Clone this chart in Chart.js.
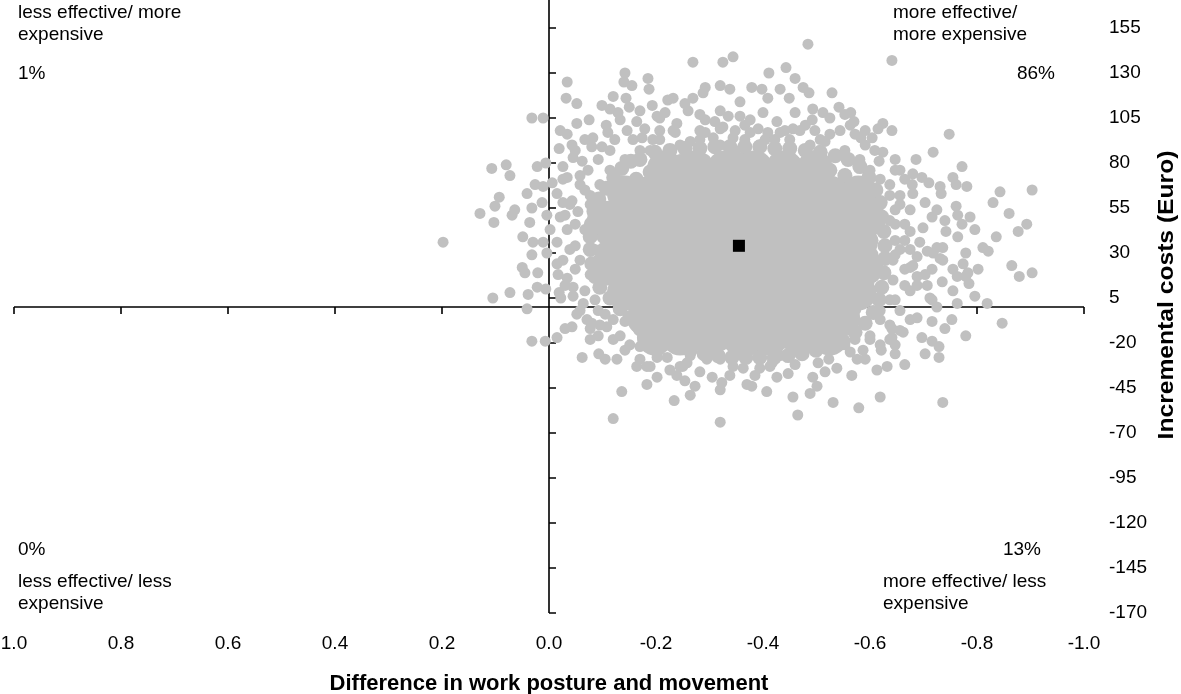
<!DOCTYPE html>
<html>
<head>
<meta charset="utf-8">
<script src="https://cdn.jsdelivr.net/npm/chart.js@4.4.1/dist/chart.umd.min.js"></script>
<style>
  html, body { margin: 0; padding: 0; background: #fff; }
  #wrap { width: 1181px; height: 694px; }
</style>
</head>
<body>
<div id="wrap"><canvas id="cePlane"></canvas></div>
<script>
// tick values of the two axes
const xTicks = [1.0, 0.8, 0.6, 0.4, 0.2, 0.0, -0.2, -0.4, -0.6, -0.8, -1.0];
const yTicks = [155, 130, 105, 80, 55, 30, 5, -20, -45, -70, -95, -120, -145, -170];

// point estimate (difference in effect, incremental costs)
const meanPoint = [[-0.355, 34]];

// the solid middle of the bootstrap cloud
const cloudCore = [
    [-0.217, 77], [-0.273, 77], [-0.329, 77], [-0.385, 77], [-0.441, 77], [-0.497, 77],
    [-0.142, 63], [-0.189, 63], [-0.245, 63], [-0.301, 63], [-0.357, 63], [-0.413, 63], [-0.469, 63], [-0.525, 63], [-0.578, 63],
    [-0.105, 49], [-0.161, 49], [-0.217, 49], [-0.273, 49], [-0.329, 49], [-0.385, 49], [-0.441, 49], [-0.497, 49], [-0.553, 49], [-0.596, 49],
    [-0.133, 36], [-0.189, 36], [-0.245, 36], [-0.301, 36], [-0.357, 36], [-0.413, 36], [-0.469, 36], [-0.525, 36], [-0.581, 36],
    [-0.110, 22], [-0.161, 22], [-0.217, 22], [-0.273, 22], [-0.329, 22], [-0.385, 22], [-0.441, 22], [-0.497, 22], [-0.553, 22], [-0.591, 22],
    [-0.142, 8], [-0.189, 8], [-0.245, 8], [-0.301, 8], [-0.357, 8], [-0.413, 8], [-0.469, 8], [-0.525, 8], [-0.578, 8],
    [-0.179, -6], [-0.217, -6], [-0.273, -6], [-0.329, -6], [-0.385, -6], [-0.441, -6], [-0.497, -6], [-0.548, -6],
    [-0.198, -17], [-0.245, -17], [-0.301, -17], [-0.357, -17], [-0.413, -17], [-0.469, -17], [-0.525, -17]
];

// crowded replicates along the rim of the solid middle
const cloudRim = [
    [-0.170, 82], [-0.198, 86], [-0.226, 87], [-0.254, 88], [-0.282, 88], [-0.310, 89], [-0.338, 89], [-0.366, 89],
    [-0.394, 89], [-0.422, 88], [-0.450, 88], [-0.479, 87], [-0.507, 86], [-0.535, 84], [-0.559, 82], [-0.581, 78],
    [-0.598, 72], [-0.611, 65], [-0.619, 58], [-0.622, 50], [-0.626, 42], [-0.628, 34], [-0.628, 27], [-0.626, 19],
    [-0.622, 11], [-0.617, 4], [-0.606, -3], [-0.591, -9], [-0.572, -14], [-0.550, -19], [-0.525, -22], [-0.499, -24],
    [-0.473, -26], [-0.447, -27], [-0.421, -28], [-0.394, -28], [-0.368, -28], [-0.342, -28], [-0.316, -27], [-0.290, -26],
    [-0.264, -24], [-0.237, -22], [-0.213, -19], [-0.191, -16], [-0.170, -12], [-0.151, -6], [-0.133, -1], [-0.114, 5],
    [-0.095, 11], [-0.086, 17], [-0.080, 24], [-0.077, 32], [-0.077, 39], [-0.079, 46], [-0.084, 53], [-0.093, 60],
    [-0.107, 66], [-0.121, 72], [-0.136, 77], [-0.153, 81],
    [-0.189, 75], [-0.222, 79], [-0.256, 81], [-0.290, 81], [-0.323, 82], [-0.357, 82], [-0.391, 82], [-0.424, 81],
    [-0.458, 80], [-0.492, 78], [-0.525, 76], [-0.553, 73], [-0.574, 67], [-0.587, 61], [-0.596, 53], [-0.600, 46],
    [-0.602, 37], [-0.602, 29], [-0.600, 21], [-0.594, 13], [-0.585, 6], [-0.570, -1], [-0.551, -7], [-0.529, -12],
    [-0.503, -16], [-0.473, -18], [-0.443, -19], [-0.413, -20], [-0.383, -21], [-0.353, -21], [-0.323, -20], [-0.293, -19],
    [-0.264, -17], [-0.234, -14], [-0.207, -11], [-0.185, -6], [-0.164, -1], [-0.146, 5], [-0.127, 11], [-0.114, 18],
    [-0.107, 25], [-0.103, 32], [-0.103, 39], [-0.107, 47], [-0.114, 54], [-0.127, 61], [-0.142, 66], [-0.163, 71]
];

// single bootstrap replicates around the edge of the cloud
const cloudEdge = [
    // left of the y axis
    [0.198, 36], [0.129, 52], [0.107, 77], [0.080, 79], [0.073, 73], [0.103, 47], [0.101, 56], [0.093, 61],
    [0.069, 51], [0.064, 54], [0.041, 63], [0.032, 105], [0.011, 105], [0.022, 78], [0.006, 80], [0.026, 68],
    [0.011, 67], [0.032, 55], [0.013, 58], [-0.006, 69], [0.004, 51], [0.036, 47], [0.049, 39], [0.030, 36],
    [0.011, 36], [-0.002, 43], [0.032, 29], [0.004, 30], [0.050, 22], [0.045, 19], [0.021, 19], [0.105, 5],
    [0.073, 8], [0.039, 7], [0.022, 11], [0.006, 10], [0.041, -1], [-0.017, 18], [-0.019, 8], [-0.022, 5],
    [0.032, -19], [0.007, -19], [-0.015, -17], [-0.030, -12], [-0.043, -11],
    // upper left
    [-0.034, 125], [-0.032, 116], [-0.052, 113], [-0.075, 104], [-0.052, 102], [-0.034, 96], [-0.043, 90], [-0.019, 88],
    [-0.082, 94], [-0.080, 89], [-0.099, 89], [-0.099, 112], [-0.120, 117], [-0.114, 110], [-0.129, 108], [-0.133, 104],
    [-0.107, 101], [-0.110, 97], [-0.142, 130], [-0.140, 125], [-0.155, 123], [-0.144, 116], [-0.150, 111], [-0.185, 127],
    [-0.187, 121], [-0.193, 112], [-0.164, 103], [-0.146, 98], [-0.157, 93], [-0.202, 106], [-0.217, 108], [-0.222, 115],
    [-0.232, 116], [-0.269, 136], [-0.269, 116], [-0.254, 113], [-0.288, 119], [-0.292, 122], [-0.292, 104], [-0.320, 123],
    [-0.325, 136], [-0.344, 139], [-0.338, 121], [-0.357, 114], [-0.320, 109], [-0.335, 106], [-0.357, 106], [-0.379, 122],
    [-0.398, 121], [-0.409, 116], [-0.411, 130], [-0.432, 121], [-0.443, 133], [-0.449, 116], [-0.460, 127], [-0.460, 108],
    [-0.376, 104], [-0.400, 108], [-0.426, 103], [-0.456, 99], [-0.239, 102], [-0.260, 109], [-0.310, 103], [-0.325, 100],
    [-0.307, 94], [-0.344, 94], [-0.376, 97], [-0.409, 97], [-0.232, 98], [-0.174, 94], [-0.194, 93],
    [-0.123, 93], [-0.179, 99], [-0.207, 93], [-0.236, 97], [-0.264, 92], [-0.292, 97], [-0.320, 99], [-0.348, 98],
    [-0.391, 99], [-0.404, 93], [-0.432, 97], [-0.469, 98], [-0.497, 98], [-0.516, 92], [-0.572, 96], [-0.591, 98],
    [-0.553, 107], [-0.282, 107], [-0.207, 105], [-0.170, 109], [-0.366, 101], [-0.492, 104],
    // left fringe
    [-0.045, 83], [-0.062, 81], [-0.026, 78], [-0.034, 72], [-0.026, 71], [-0.015, 63], [-0.026, 58], [-0.043, 59],
    [-0.021, 50], [-0.034, 43], [-0.015, 36], [-0.026, 26], [-0.015, 24], [-0.034, 16], [-0.045, 11], [-0.045, 6],
    [-0.064, 2], [-0.092, -2], [-0.058, 73], [-0.067, 65], [-0.054, 53], [-0.077, 57], [-0.049, 34], [-0.067, 43],
    [-0.058, 26], [-0.077, 18], [-0.067, 9], [-0.086, 4], [-0.039, 32], [-0.080, 48], [-0.086, 32], [-0.095, 12],
    [-0.073, 76], [-0.092, 82], [-0.114, 87], [-0.030, 51], [-0.049, 21],
    [-0.049, 87], [-0.067, 93], [-0.021, 98], [-0.058, 68], [-0.039, 57], [-0.049, 46], [-0.030, 12], [-0.058, -2],
    [-0.077, -12],
    // below the cloud
    [-0.052, -4], [-0.071, -7], [-0.080, -9], [-0.062, -28], [-0.092, -16], [-0.093, -26], [-0.105, -29], [-0.120, -18],
    [-0.127, -29], [-0.108, -11], [-0.120, -7], [-0.136, -47], [-0.120, -62], [-0.164, -33], [-0.183, -33], [-0.183, -43],
    [-0.202, -39], [-0.170, -22], [-0.176, -18], [-0.202, -28], [-0.221, -28], [-0.234, -52], [-0.239, -38], [-0.250, -33],
    [-0.254, -41], [-0.273, -44], [-0.258, -31], [-0.305, -39], [-0.323, -42], [-0.320, -64], [-0.344, -33], [-0.363, -34],
    [-0.370, -43], [-0.385, -38], [-0.407, -47], [-0.426, -39], [-0.413, -33], [-0.447, -37], [-0.456, -50], [-0.465, -60],
    [-0.295, -29], [-0.376, -24], [-0.189, -33], [-0.245, -33], [-0.379, -44], [-0.417, -31], [-0.488, -48], [-0.501, -44],
    [-0.493, -39], [-0.503, -31], [-0.531, -53], [-0.523, -29], [-0.538, -34], [-0.566, -38], [-0.579, -56], [-0.576, -29],
    [-0.591, -29], [-0.587, -24], [-0.619, -50], [-0.613, -35], [-0.632, -33], [-0.665, -32], [-0.621, -24], [-0.647, -26],
    [-0.647, -21], [-0.637, -18], [-0.736, -53], [-0.703, -26], [-0.729, -28], [-0.697, -17], [-0.716, -19], [-0.729, -22],
    [-0.662, -14], [-0.641, -12], [-0.641, -17], [-0.688, -6], [-0.716, -8], [-0.740, -12], [-0.753, -7], [-0.779, -16],
    [-0.151, -21], [-0.207, -24], [-0.264, -27], [-0.282, -21], [-0.320, -29], [-0.348, -27], [-0.394, -27], [-0.432, -27],
    [-0.469, -24], [-0.497, -24], [-0.553, -21], [-0.095, -10], [-0.133, -16], [-0.600, -18], [-0.572, -18], [-0.619, -7],
    [-0.142, -24], [-0.077, -18], [-0.105, -4], [-0.142, -8], [-0.170, -13],
    [-0.170, -29], [-0.226, -35], [-0.282, -36], [-0.338, -38], [-0.394, -34], [-0.460, -32], [-0.516, -36], [-0.563, -25],
    [-0.320, -46], [-0.264, -49],
    // right of the cloud
    [-0.847, -9], [-0.819, 2], [-0.796, 6], [-0.763, 2], [-0.755, 9], [-0.735, 14], [-0.725, 0], [-0.716, 4],
    [-0.688, 12], [-0.707, 12], [-0.802, 21], [-0.865, 23], [-0.879, 17], [-0.903, 19], [-0.821, 31], [-0.811, 33],
    [-0.779, 30], [-0.774, 24], [-0.783, 19], [-0.785, 13], [-0.755, 21], [-0.731, 27], [-0.718, 30], [-0.736, 33],
    [-0.707, 31], [-0.716, 21], [-0.703, 18], [-0.680, 23], [-0.688, 28],
    [-0.484, 146], [-0.641, 137], [-0.475, 122], [-0.486, 119], [-0.529, 119], [-0.493, 110], [-0.542, 111], [-0.564, 108],
    [-0.570, 103], [-0.512, 108], [-0.525, 105], [-0.624, 102], [-0.641, 98], [-0.615, 99], [-0.748, 96], [-0.583, 94],
    [-0.604, 94], [-0.718, 86], [-0.686, 82], [-0.772, 78], [-0.624, 86], [-0.617, 81], [-0.656, 76], [-0.680, 74],
    [-0.697, 72], [-0.710, 69], [-0.755, 72], [-0.761, 68], [-0.781, 67], [-0.903, 65], [-0.843, 64], [-0.830, 58],
    [-0.860, 52], [-0.731, 67], [-0.733, 63], [-0.679, 68], [-0.680, 63], [-0.703, 58], [-0.761, 56], [-0.764, 51],
    [-0.787, 50], [-0.725, 54], [-0.716, 50], [-0.699, 44], [-0.740, 48], [-0.742, 42], [-0.877, 42], [-0.893, 46],
    [-0.796, 43], [-0.764, 39], [-0.772, 46], [-0.836, 39], [-0.675, 42], [-0.725, 33], [-0.736, 26], [-0.763, 17],
    [-0.779, 17], [-0.712, 5], [-0.675, 22], [-0.688, 17], [-0.675, 32], [-0.693, 36],
    [-0.647, 76], [-0.637, 68], [-0.656, 57], [-0.637, 48], [-0.665, 37], [-0.647, 29], [-0.665, 12], [-0.647, 4],
    [-0.619, -2], [-0.675, -7], [-0.656, -13], [-0.619, -21],
    // top and right fringe
    [-0.189, 87], [-0.245, 90], [-0.282, 93], [-0.320, 90], [-0.394, 90], [-0.450, 93], [-0.488, 90], [-0.525, 96],
    [-0.553, 87], [-0.581, 82], [-0.600, 76], [-0.619, 71], [-0.637, 62], [-0.647, 54], [-0.647, 46], [-0.647, 37],
    [-0.643, 26], [-0.643, 15], [-0.637, 4], [-0.600, -16], [-0.544, 98], [-0.479, 101], [-0.441, 98], [-0.282, 98],
    [-0.207, 98], [-0.170, 87], [-0.142, 82], [-0.114, 76], [-0.095, 68], [-0.077, 62], [-0.563, 101], [-0.591, 90],
    [-0.609, 87], [-0.647, 82], [-0.665, 71], [-0.656, 62], [-0.675, 54], [-0.665, 46], [-0.656, 32], [-0.665, 21],
    [-0.675, 9], [-0.656, -2], [-0.637, -10], [-0.366, 93], [-0.422, 93], [-0.507, 93], [-0.348, 87], [-0.245, 82],
    [-0.198, 79]
];

const xTitle = 'Difference in work posture and movement';
const yTitle = 'Incremental costs (Euro)';
const quadrantNotes = [
    { corner: 'topLeft', lines: ['less effective/ more', 'expensive'], share: '1%' },
    { corner: 'topRight', lines: ['more effective/', 'more expensive'], share: '86%' },
    { corner: 'bottomLeft', lines: ['less effective/ less', 'expensive'], share: '0%' },
    { corner: 'bottomRight', lines: ['more effective/ less', 'expensive'], share: '13%' }
];

const FONT = "'Liberation Sans', Arial, sans-serif";

function toXY(pairs) {
    return pairs.map(p => ({ x: p[0], y: p[1] }));
}

// axes that cross at (0, 0), with tick marks, drawn below the points
const crossAxes = {
    id: 'crossAxes',
    beforeDatasetsDraw(chart) {
        const { ctx, chartArea, scales } = chart;
        const x0 = scales.x.getPixelForValue(0);
        const y0 = scales.y.getPixelForValue(0);
        ctx.save();
        ctx.strokeStyle = '#000';
        ctx.lineWidth = 1.6;
        ctx.beginPath();
        ctx.moveTo(x0, chartArea.top - 1);
        ctx.lineTo(x0, chartArea.bottom);
        ctx.moveTo(chartArea.left, y0);
        ctx.lineTo(chartArea.right, y0);
        xTicks.forEach(v => {
            const px = scales.x.getPixelForValue(v);
            ctx.moveTo(px, y0);
            ctx.lineTo(px, y0 + 7);
        });
        yTicks.forEach(v => {
            const py = scales.y.getPixelForValue(v);
            ctx.moveTo(x0, py);
            ctx.lineTo(x0 + 7, py);
        });
        ctx.stroke();
        ctx.restore();
    }
};

// quadrant captions and the rotated y title
const planeText = {
    id: 'planeText',
    afterDraw(chart) {
        const { ctx, chartArea } = chart;
        const { left, right, top, bottom } = chartArea;
        ctx.save();
        ctx.fillStyle = '#000';
        ctx.textBaseline = 'middle';
        ctx.font = '19px ' + FONT;
        quadrantNotes.forEach(q => {
            let lx, ly, sx, sy, sAlign;
            if (q.corner === 'topLeft') { lx = left + 4; ly = top + 12; sx = left + 4; sy = top + 73; sAlign = 'left'; }
            if (q.corner === 'topRight') { lx = right - 191; ly = top + 12; sx = right - 29; sy = top + 73; sAlign = 'right'; }
            if (q.corner === 'bottomLeft') { lx = left + 4; ly = bottom - 31; sx = left + 4; sy = bottom - 63; sAlign = 'left'; }
            if (q.corner === 'bottomRight') { lx = right - 201; ly = bottom - 31; sx = right - 43; sy = bottom - 63; sAlign = 'right'; }
            ctx.textAlign = 'left';
            q.lines.forEach((t, i) => ctx.fillText(t, lx, ly + i * 22));
            ctx.textAlign = sAlign;
            ctx.fillText(q.share, sx, sy);
        });

        ctx.translate(chart.width - 14, (top + bottom) / 2 - 12);
        ctx.rotate(-Math.PI / 2);
        ctx.scale(1.12, 1);
        ctx.font = 'bold 22px ' + FONT;
        ctx.textAlign = 'center';
        ctx.fillText(yTitle, 0, 0);
        ctx.restore();
    }
};

const ctx = document.getElementById('cePlane').getContext('2d');
new Chart(ctx, {
    type: 'scatter',
    data: {
        datasets: [
            {
                label: 'mean',
                data: toXY(meanPoint),
                pointStyle: 'rect',
                pointRadius: 8.5,
                pointBackgroundColor: '#000',
                pointBorderWidth: 0,
                order: 0
            },
            {
                label: 'bootstrap edge',
                data: toXY(cloudEdge),
                pointRadius: 5.5,
                pointBackgroundColor: '#c0c0c0',
                pointBorderWidth: 0,
                order: 1
            },
            {
                label: 'bootstrap rim',
                data: toXY(cloudRim),
                pointRadius: 7.5,
                pointBackgroundColor: '#c0c0c0',
                pointBorderWidth: 0,
                order: 2
            },
            {
                label: 'bootstrap core',
                data: toXY(cloudCore),
                pointRadius: 18,
                pointBackgroundColor: '#c0c0c0',
                pointBorderWidth: 0,
                order: 3
            }
        ]
    },
    options: {
        responsive: true,
        maintainAspectRatio: false,
        animation: false,
        layout: { autoPadding: false, padding: { left: 14, top: 1, right: 0, bottom: 0 } },
        plugins: {
            legend: { display: false },
            tooltip: { enabled: false }
        },
        scales: {
            x: {
                type: 'linear',
                reverse: true,
                min: -1,
                max: 1,
                afterBuildTicks: s => { s.ticks = xTicks.map(v => ({ value: v })); },
                afterFit: s => {
                    // fixed band under the plot; no extra side padding from tick padding
                    s.height = 81;
                    s.paddingLeft = 0;
                    s.paddingRight = 0;
                },
                grid: { display: false, drawTicks: false },
                border: { display: false },
                ticks: {
                    color: '#000',
                    font: { family: FONT, size: 19 },
                    padding: 19,
                    maxRotation: 0,
                    autoSkip: false,
                    callback: v => (Math.abs(v) < 1e-9 ? 0 : v).toFixed(1)
                },
                title: {
                    display: true,
                    text: xTitle,
                    color: '#000',
                    font: { family: FONT, size: 22, weight: 'bold' },
                    padding: { top: 0, bottom: -3 }
                }
            },
            y: {
                type: 'linear',
                position: 'right',
                min: -170,
                max: 170,
                afterBuildTicks: s => { s.ticks = yTicks.map(v => ({ value: v })); },
                afterFit: s => {
                    s.width = 97;
                    s.paddingTop = 0;
                    s.paddingBottom = 0;
                },
                grid: { display: false, drawTicks: false },
                border: { display: false },
                ticks: {
                    color: '#000',
                    font: { family: FONT, size: 19 },
                    padding: 25
                },
                title: { display: false }
            }
        }
    },
    plugins: [crossAxes, planeText]
});
</script>
</body>
</html>
